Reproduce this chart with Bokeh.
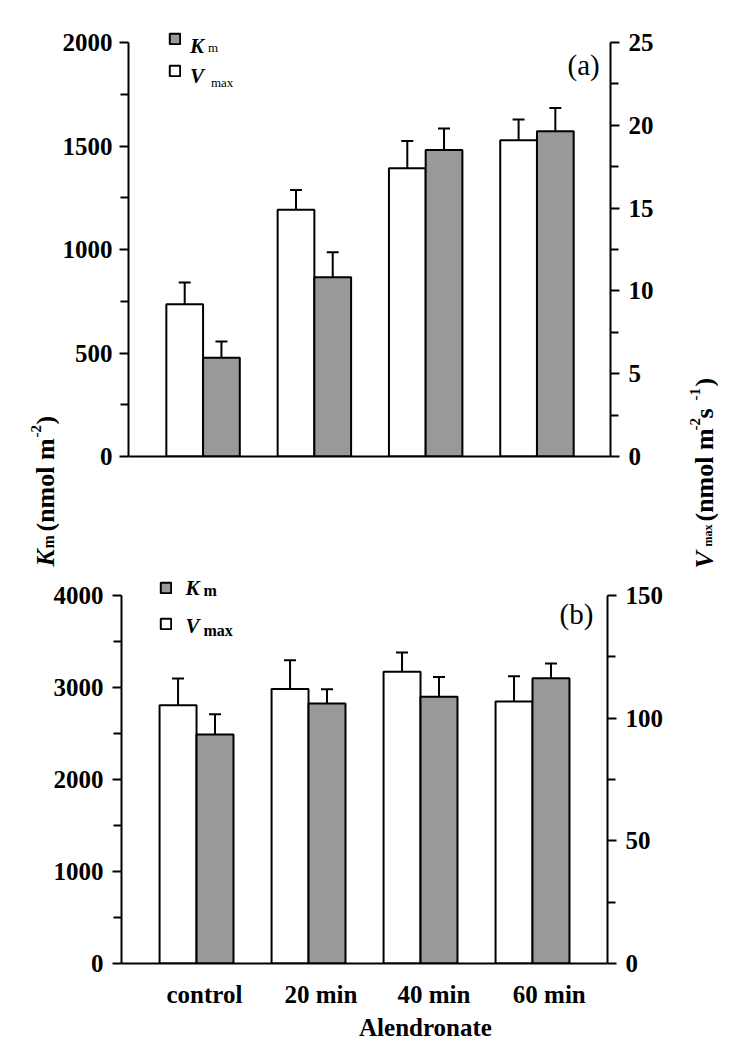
import math
from bokeh.plotting import figure
from bokeh.models import (ColumnDataSource, Range1d, LinearAxis, FixedTicker, Whisker,
                          TeeHead, Label, Legend, LegendItem)
from bokeh.layouts import column, row
from bokeh.embed import file_html
from bokeh.resources import INLINE

# ---------------- data ----------------
categories = ["control", "20 min", "40 min", "60 min"]
x_title = "Alendronate"

# panel (a)
km_a = [477, 866, 1481, 1571]
km_a_err = [79, 121, 104, 113]
vmax_a = [9.2, 14.9, 17.4, 19.1]
vmax_a_err = [1.3, 1.2, 1.65, 1.25]

# panel (b)
km_b = [2490, 2825, 2900, 3100]
km_b_err = [218, 156, 214, 160]
vmax_b = [105.3, 111.9, 118.9, 106.8]
vmax_b_err = [10.9, 11.7, 7.9, 10.3]

km_ticks_a = [0, 500, 1000, 1500, 2000]
vmax_ticks_a = [0, 5, 10, 15, 20, 25]
km_ticks_b = [0, 1000, 2000, 3000, 4000]
vmax_ticks_b = [0, 50, 100, 150]

# ---------------- style ----------------
FONT = "Liberation Serif"
GRAY = "#999999"
XS = -0.67
BW = 0.33
LABEL_SHIFTS = [0.07, 0.11, 0.12, 0.15]   # tick-label offset from group centre
UP = math.pi / 2


def minors(ticks):
    return [(a + b) / 2 for a, b in zip(ticks[:-1], ticks[1:])]


class Tr:
    """page pixel -> data coordinates of a panel (for text placement only)"""
    def __init__(self, ox, oy, left, top, frame_w, frame_h, x_end, y_end):
        self.ox, self.oy, self.left, self.top = ox, oy, left, top
        self.fw, self.fh, self.xe, self.ye = frame_w, frame_h, x_end, y_end

    def x(self, wx):
        return XS + (wx - self.ox - self.left) / self.fw * (self.xe - XS)

    def y(self, wy):
        return (self.top + self.fh - (wy - self.oy)) / self.fh * self.ye


class Ident:
    def x(self, wx):
        return wx

    def y(self, wy):
        return wy


def style_y_axis(ax, ticks, standoff):
    ax.ticker = FixedTicker(ticks=ticks, minor_ticks=minors(ticks))
    ax.bounds = (ticks[0], ticks[-1])
    ax.axis_line_width = 2
    ax.axis_line_color = "black"
    ax.major_tick_line_width = 2
    ax.minor_tick_line_width = 2
    ax.major_tick_line_color = "black"
    ax.minor_tick_line_color = "black"
    ax.major_tick_out = 9
    ax.major_tick_in = 0
    ax.minor_tick_out = 8
    ax.minor_tick_in = 0
    ax.major_label_text_font = FONT
    ax.major_label_text_font_style = "bold"
    ax.major_label_text_font_size = "25px"
    ax.major_label_text_color = "black"
    ax.major_label_standoff = standoff


def add_text(p, tr, text, wx, wy, size, style="bold", angle=0.0, align="left"):
    p.add_layout(Label(x=tr.x(wx), y=tr.y(wy), text=text, text_font=FONT,
                       text_font_style=style, text_font_size=f"{size}px",
                       text_color="black", angle=angle, text_align=align,
                       text_baseline="alphabetic"))


def strip(x0, y0, w, h):
    s = figure(width=w, height=h, title=None, x_range=Range1d(x0, x0 + w),
               y_range=Range1d(y0 + h, y0), x_axis_type=None, y_axis_type=None,
               output_backend="svg", toolbar_location=None, min_border=0,
               min_border_left=0, min_border_right=0, min_border_top=0,
               min_border_bottom=0, frame_align=False)
    s.outline_line_color = None
    s.background_fill_color = "white"
    s.border_fill_color = "white"
    return s


def make_panel(km, km_err, vmax, vmax_err, km_ticks, vmax_ticks,
               fig_w, fig_h, left, frame_w, top, frame_h, axis_px, x_end,
               show_x_labels, legend_loc, legend_spacing, left_standoff):
    km_end = km_ticks[-1] * frame_h / axis_px
    v_end = vmax_ticks[-1] * frame_h / axis_px
    p = figure(width=fig_w, height=fig_h, title=None,
               x_range=Range1d(XS, x_end), y_range=Range1d(0, km_end),
               output_backend="svg", toolbar_location=None, frame_align=False,
               min_border_left=left, min_border_right=fig_w - left - frame_w,
               min_border_top=top, min_border_bottom=fig_h - top - frame_h)
    p.extra_y_ranges = {"vmax": Range1d(0, v_end)}
    p.outline_line_color = None
    p.xgrid.visible = False
    p.ygrid.visible = False
    p.background_fill_color = "white"
    p.border_fill_color = "white"

    style_y_axis(p.yaxis[0], km_ticks, left_standoff)
    right = LinearAxis(y_range_name="vmax")
    style_y_axis(right, vmax_ticks, 9)
    p.add_layout(right, "right")

    xa = p.xaxis[0]
    xa.axis_line_width = 2
    xa.axis_line_color = "black"
    xa.major_tick_line_color = None
    xa.minor_tick_line_color = None
    xa.major_tick_out = 0
    xa.major_tick_in = 0
    if show_x_labels:
        xt = [i + s for i, s in enumerate(LABEL_SHIFTS)]
        xa.ticker = FixedTicker(ticks=xt, minor_ticks=[])
        xa.major_label_overrides = {t: c for t, c in zip(xt, categories)}
        xa.major_label_text_font = FONT
        xa.major_label_text_font_style = "bold"
        xa.major_label_text_font_size = "25px"
        xa.major_label_text_color = "black"
        xa.major_label_standoff = 17
    else:
        xa.ticker = FixedTicker(ticks=[], minor_ticks=[])
        xa.major_label_text_font_size = "0px"

    idx = list(range(len(categories)))
    src = ColumnDataSource(dict(
        cat=categories,
        xv=[i - BW / 2 for i in idx],
        xk=[i + BW / 2 for i in idx],
        km=km, km_hi=[a + b for a, b in zip(km, km_err)],
        vmax=vmax, vmax_hi=[a + b for a, b in zip(vmax, vmax_err)],
    ))
    rv = p.vbar(x="xv", top="vmax", width=BW, bottom=0, source=src, y_range_name="vmax",
                fill_color="white", line_color="black", line_width=2)
    rk = p.vbar(x="xk", top="km", width=BW, bottom=0, source=src,
                fill_color=GRAY, line_color="black", line_width=2)

    p.add_layout(Whisker(base="xv", lower="vmax", upper="vmax_hi", source=src,
                         y_range_name="vmax", line_width=2, line_color="black",
                         lower_head=None,
                         upper_head=TeeHead(size=12, line_width=2, line_color="black")))
    p.add_layout(Whisker(base="xk", lower="km", upper="km_hi", source=src,
                         line_width=2, line_color="black", lower_head=None,
                         upper_head=TeeHead(size=12, line_width=2, line_color="black")))

    legend = Legend(items=[LegendItem(label="", renderers=[rk]),
                           LegendItem(label="", renderers=[rv])],
                    location=legend_loc, orientation="vertical",
                    glyph_width=13, glyph_height=13, label_standoff=0,
                    label_width=0, label_height=13, label_text_font_size="1px",
                    spacing=legend_spacing, padding=0, margin=0,
                    border_line_color=None, background_fill_alpha=0)
    p.add_layout(legend)
    return p


# ---------------- geometry (page pixels) ----------------
ROW1_H = 571
LS_W = 59            # left title strip
RS_X = 660           # right title strip start
PAGE_W = 718
PA_W = RS_X - LS_W

# ---------------- panel (a) ----------------
PA_LEFT, PA_FW, PA_TOP, PA_FH = 125 - LS_W, 485, 20, 436
PA_XE = 3.6607
pa = make_panel(km_a, km_a_err, vmax_a, vmax_a_err, km_ticks_a, vmax_ticks_a,
                fig_w=PA_W, fig_h=ROW1_H, left=PA_LEFT, frame_w=PA_FW, top=PA_TOP,
                frame_h=PA_FH, axis_px=414, x_end=PA_XE, show_x_labels=False,
                legend_loc=(40, 379), legend_spacing=19, left_standoff=7)
tra = Tr(LS_W, 0, PA_LEFT, PA_TOP, PA_FW, PA_FH, PA_XE, km_ticks_a[-1] * PA_FH / 414)

add_text(pa, tra, "K", 187, 45, 21, "bold italic")
add_text(pa, tra, "m", 205, 47, 13, "normal")
add_text(pa, tra, "V", 187, 75, 21, "bold italic")
add_text(pa, tra, "max", 208, 82, 13, "normal")
add_text(pa, tra, "(a)", 583, 64, 29, "normal", align="center")

# left axis title strip (spans both panels)
ls = strip(0, 0, LS_W, ROW1_H)
I = Ident()
add_text(ls, I, "K", 45, 566, 26, "bold italic", angle=UP)
add_text(ls, I, "m", 48, 548, 16, "bold", angle=UP)
add_text(ls, I, "(nmol m", 45, 531, 26, "bold", angle=UP)
add_text(ls, I, "-2", 35, 437, 15, "bold", angle=UP)
add_text(ls, I, ")", 45, 424, 26, "bold", angle=UP)

# right axis title strip
rs = strip(RS_X, 0, PAGE_W - RS_X, ROW1_H)
add_text(rs, I, "V", 704, 568, 26, "bold italic", angle=UP)
add_text(rs, I, "max", 707, 546, 12, "bold", angle=UP)
add_text(rs, I, "(nmol m", 704, 521, 26, "bold", angle=UP)
add_text(rs, I, "-2", 694, 430, 15, "bold", angle=UP)
add_text(rs, I, " s", 704, 418, 26, "bold", angle=UP)
add_text(rs, I, "-1", 694, 400, 15, "bold", angle=UP)
add_text(rs, I, ")", 704, 386, 26, "bold", angle=UP)

# ---------------- panel (b) ----------------
PB_TOPY = ROW1_H
PB_H = 1010 - PB_TOPY
PB_LEFT, PB_FW, PB_TOP, PB_FH = 121, 486, 0, 963 - PB_TOPY
PB_XE = 3.6696
pb = make_panel(km_b, km_b_err, vmax_b, vmax_b_err, km_ticks_b, vmax_ticks_b,
                fig_w=PAGE_W, fig_h=PB_H, left=PB_LEFT, frame_w=PB_FW, top=PB_TOP,
                frame_h=PB_FH, axis_px=368, x_end=PB_XE, show_x_labels=True,
                legend_loc=(38, 333), legend_spacing=23, left_standoff=9)
trb = Tr(0, PB_TOPY, PB_LEFT, PB_TOP, PB_FW, PB_FH, PB_XE, km_ticks_b[-1] * PB_FH / 368)

add_text(pb, trb, "K", 185, 587, 21, "bold italic")
add_text(pb, trb, "m", 203, 590, 16, "bold")
add_text(pb, trb, "V", 185, 625, 21, "bold italic")
add_text(pb, trb, "max", 203, 630, 16, "bold")
add_text(pb, trb, "(b)", 576, 613, 29, "normal", align="center")

# x title strip
bs = strip(0, 1010, PAGE_W, 31)
add_text(bs, I, x_title, 425, 1027, 25, "bold", align="center")

layout = column(row(ls, pa, rs, spacing=0), pb, bs, spacing=0)
open("out.html", "w").write(file_html(layout, INLINE))
